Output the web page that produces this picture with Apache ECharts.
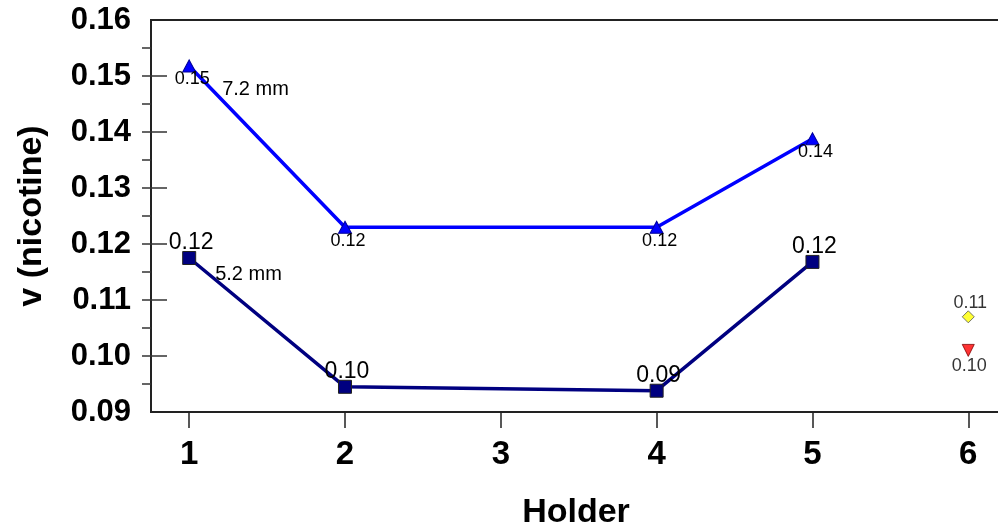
<!DOCTYPE html>
<html lang="en">
<head>
    <meta charset="UTF-8">
    <title>v (nicotine) vs Holder</title>
    <script src="https://cdn.jsdelivr.net/npm/echarts@6.0.0/dist/echarts.min.js"></script>
    <style>
        *{margin:0;padding:0;box-sizing:border-box;}
        body,html{width:998px;height:531px;background:#fff;}
        .mains{width:998px;height:531px;}
    </style>
</head>
<body>
    <section class="mains" id="one"></section>
    <script>
        // holders that have both runs
        var holders = [1, 2, 4, 5]
        var d72 = [0.1518, 0.1230, 0.1230, 0.1388]       // 7.2 mm
        var d72Labels = ['0.15', '0.12', '0.12', '0.14']
        var d52 = [0.1175, 0.0945, 0.0938, 0.1168]       // 5.2 mm
        var d52Labels = ['0.12', '0.10', '0.09', '0.12']
        // single points at holder 6
        var yellowPt = [6, 0.1070]
        var redPt = [6, 0.1010]
        var singleLabels = ['0.11', '0.10']

        var xTicks = [1, 2, 3, 4, 5, 6]
        var yMajor = [0.10, 0.11, 0.12, 0.13, 0.14, 0.15]
        var yAll = [0.095, 0.10, 0.105, 0.11, 0.115, 0.12, 0.125, 0.13, 0.135, 0.14, 0.145, 0.15, 0.155]

        var font = 'Liberation Sans, Arial, Helvetica, sans-serif'
        var myCharts = echarts.init(document.getElementById("one"))

        function pairs(xs, ys){
            return xs.map(function(x, i){ return [x, ys[i]] })
        }

        var option = {
            animation: false,
            textStyle: {fontFamily: font, color: '#000'},
            grid: {
                left: 151, top: 20, bottom: 119, right: -3,
                show: true, borderColor: '#222', borderWidth: 2,
                outerBoundsMode: 'none'
            },
            xAxis: {
                type: 'value', min: 0.755, max: 6.21,
                axisLine: {show: true, lineStyle: {color: '#222', width: 2}},
                axisTick: {show: true, customValues: xTicks, length: 16, lineStyle: {color: '#222', width: 1.5}},
                axisLabel: {customValues: xTicks, fontSize: 33, fontWeight: 'bold', color: '#000', margin: 26},
                splitLine: {show: false},
                name: 'Holder', nameLocation: 'middle', nameGap: 84,
                nameTextStyle: {fontSize: 34, fontWeight: 'bold', color: '#000'}
            },
            yAxis: [
                {
                    type: 'value', min: 0.09, max: 0.16, interval: 0.01, position: 'left', offset: 0,
                    axisLine: {show: true, lineStyle: {color: '#222', width: 2}},
                    axisTick: {show: true, customValues: yAll, length: 9, lineStyle: {color: '#333', width: 1.5}},
                    axisLabel: {
                        fontSize: 31, fontWeight: 'bold', color: '#000', margin: 20,
                        formatter: function(v){ return v.toFixed(2) }
                    },
                    splitLine: {show: false},
                    name: 'v (nicotine)', nameLocation: 'middle', nameGap: 102, nameRotate: 90,
                    nameTextStyle: {fontSize: 34, fontWeight: 'bold', color: '#000'}
                },
                {
                    type: 'value', min: 0.09, max: 0.16, interval: 0.01, position: 'left', offset: 0,
                    axisLine: {show: false},
                    axisTick: {show: true, inside: true, customValues: yMajor, length: 16, lineStyle: {color: '#333', width: 1.5}},
                    axisLabel: {show: false},
                    splitLine: {show: false}
                }
            ],
            series: [
                {
                    name: '7.2 mm', type: 'line', data: pairs(holders, d72),
                    symbol: 'triangle', symbolSize: [13, 12],
                    lineStyle: {color: '#0000ff', width: 3.5},
                    itemStyle: {color: '#0000ff', borderColor: '#000099', borderWidth: 1},
                    label: {
                        show: true, position: 'bottom', distance: 0, offset: [3, -2],
                        fontSize: 18, color: '#000',
                        formatter: function(p){ return d72Labels[p.dataIndex] }
                    },
                    markPoint: {
                        symbol: 'circle', symbolSize: 0,
                        data: [{coord: [holders[0], d72[0]]}],
                        label: {show: true, position: 'inside', align: 'left', offset: [33, 24],
                            fontSize: 20, color: '#000', formatter: '7.2 mm'}
                    },
                    z: 3
                },
                {
                    name: '5.2 mm', type: 'line', data: pairs(holders, d52),
                    symbol: 'rect', symbolSize: 13,
                    lineStyle: {color: '#000080', width: 3.5},
                    itemStyle: {color: '#000080', borderColor: '#222', borderWidth: 1},
                    label: {
                        show: true, position: 'top', distance: -3, offset: [2, 0],
                        fontSize: 23, color: '#000',
                        formatter: function(p){ return d52Labels[p.dataIndex] }
                    },
                    markPoint: {
                        symbol: 'circle', symbolSize: 0,
                        data: [{coord: [holders[0], d52[0]]}],
                        label: {show: true, position: 'inside', align: 'left', offset: [26, 16],
                            fontSize: 20, color: '#000', formatter: '5.2 mm'}
                    },
                    z: 3
                },
                {
                    name: 'yellow', type: 'scatter', data: [yellowPt],
                    symbol: 'diamond', symbolSize: 12,
                    itemStyle: {color: '#ffff00', borderColor: '#555', borderWidth: 1},
                    label: {show: true, position: 'top', distance: 0, offset: [2, 2], fontSize: 18, color: '#000',
                        formatter: function(){ return singleLabels[0] }}
                },
                {
                    name: 'red', type: 'scatter', data: [redPt],
                    symbol: 'triangle', symbolRotate: 180, symbolSize: 12,
                    itemStyle: {color: '#ff0000', borderColor: '#800000', borderWidth: 1},
                    label: {show: true, position: 'bottom', distance: 0, offset: [1, 0], fontSize: 18, color: '#000',
                        formatter: function(){ return singleLabels[1] }}
                }
            ]
        }
        myCharts.setOption(option)
        window.onresize = myCharts.resize
    </script>
</body>
</html>
